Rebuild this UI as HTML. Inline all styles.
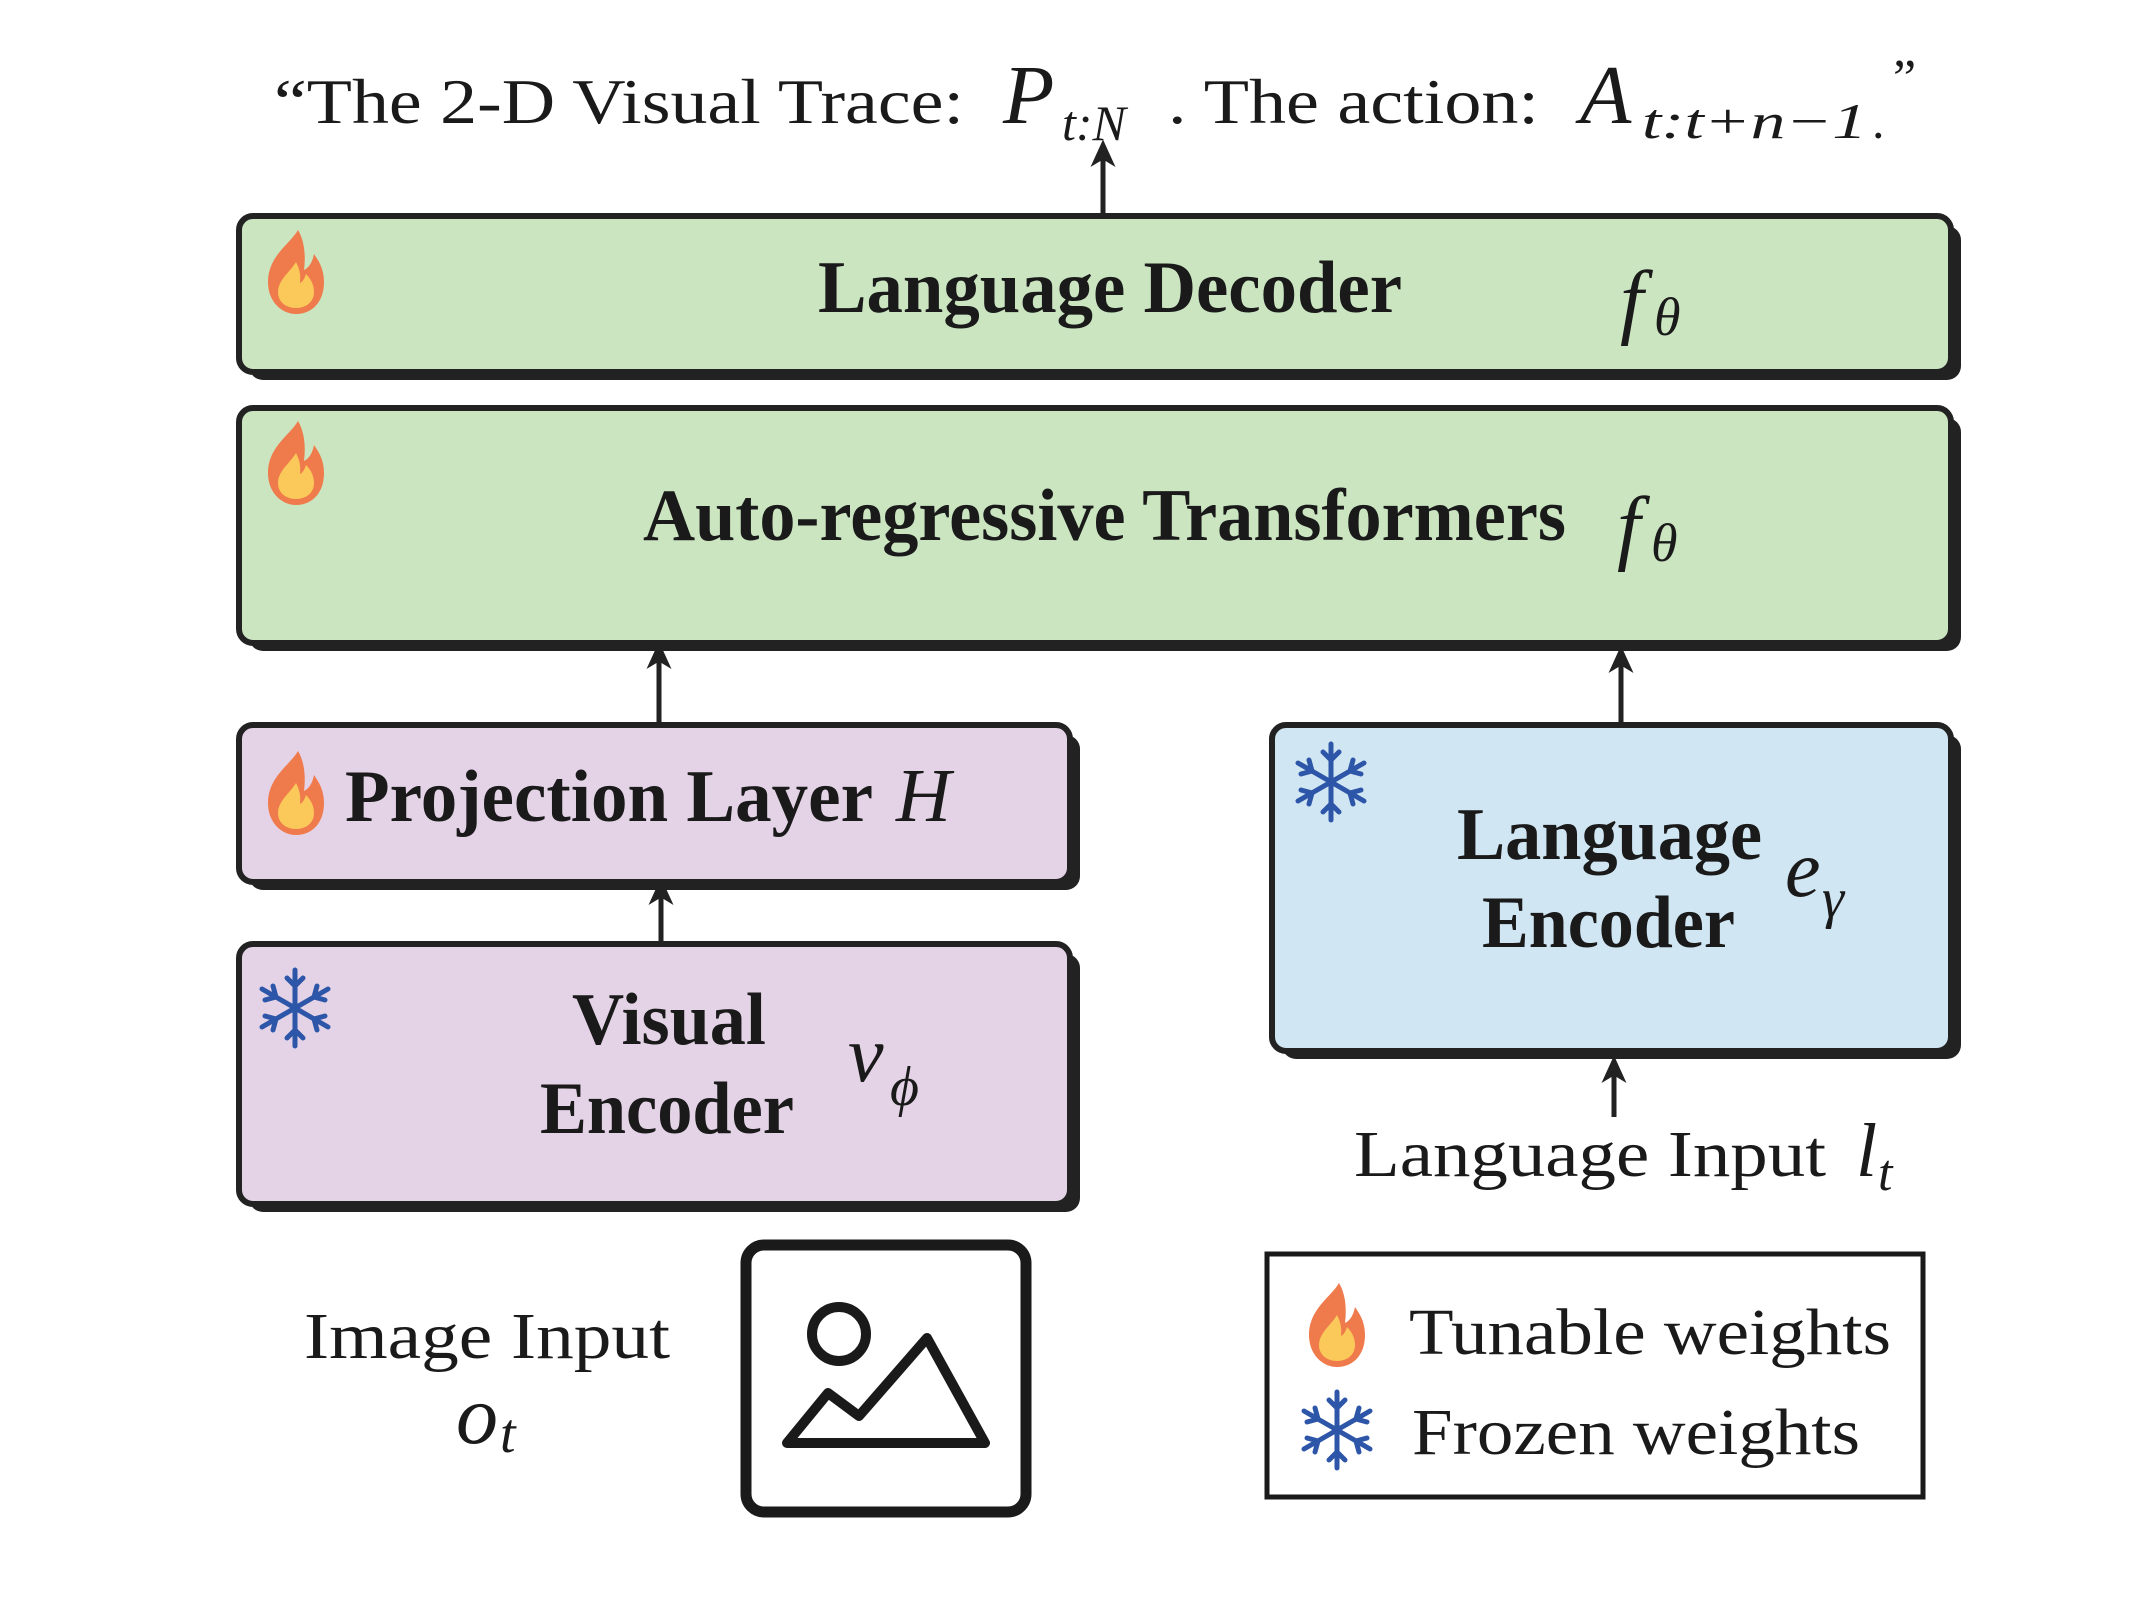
<!DOCTYPE html>
<html><head><meta charset="utf-8"><style>html,body{margin:0;padding:0;background:#fff}svg{display:block}text{font-family:"Liberation Serif",serif}</style></head>
<body>
<svg width="2134" height="1600" viewBox="0 0 2134 1600" xmlns="http://www.w3.org/2000/svg">
<defs>
<g id="flame">
<path d="M2,-44 C-6,-30 -28,-18 -28,8 C-28,28 -14,40 0,40 C16,40 28,28 28,8 C28,-6 22,-14 18,-20 C16,-10 12,-6 8,-4 C10,-20 8,-34 2,-44 Z" fill="#ef7a4c"/>
<path d="M0,-12 C-6,-2 -18,6 -18,18 C-18,28 -10,34 0,34 C10,34 18,28 18,18 C18,10 14,4 10,0 C8,6 6,8 4,9 C5,0 3,-6 0,-12 Z" fill="#fbc85a"/>
</g>
<g id="snow" stroke="#2d56a8" stroke-width="5" stroke-linecap="round" fill="none">
<line x1="0" y1="-38" x2="0" y2="38"/><line x1="-33" y1="-19" x2="33" y2="19"/><line x1="-33" y1="19" x2="33" y2="-19"/>
<path d="M-8,-30 L0,-22 L8,-30 M-8,30 L0,22 L8,30"/>
<path d="M-30,-8 L-19,-11 L-22,-22 M30,8 L19,11 L22,22"/>
<path d="M-30,8 L-19,11 L-22,22 M30,-8 L19,-11 L22,-22"/>
</g>
<marker id="ah" markerWidth="6" markerHeight="6" refX="3" refY="3" orient="auto" markerUnits="strokeWidth"><path d="M0,0.5 L5.5,3 L0,5.5 L1.5,3 Z" fill="#222"/></marker>
</defs>
<g fill="#1a1a1a">
<text x="274" y="123" font-size="64" textLength="690" lengthAdjust="spacingAndGlyphs">“The 2-D Visual Trace:</text>
<text x="1003" y="123" font-size="84" font-style="italic">P</text>
<text x="1062" y="140" font-size="50" font-style="italic">t:N</text>
<text x="1168" y="123" font-size="64" textLength="371" lengthAdjust="spacingAndGlyphs">. The action:</text>
<text x="1580" y="123" font-size="84" font-style="italic">A</text>
<text x="1642" y="138" font-size="50" font-style="italic" textLength="225" lengthAdjust="spacingAndGlyphs">t:t+n−1</text>
<text x="1872" y="138" font-size="50">.</text>
<text x="1893" y="95" font-size="52">”</text>
</g>
<g stroke="#222" stroke-width="5" fill="none">
<line x1="1103" y1="214" x2="1103" y2="152" marker-end="url(#ah)"/>
<line x1="659" y1="723" x2="659" y2="654" marker-end="url(#ah)"/>
<line x1="1621" y1="723" x2="1621" y2="658" marker-end="url(#ah)"/>
<line x1="661" y1="942" x2="661" y2="890" marker-end="url(#ah)"/>
<line x1="1614" y1="1117" x2="1614" y2="1068" marker-end="url(#ah)"/>
</g>
<g fill="#222">
<rect x="249" y="226" width="1712" height="154" rx="14"/>
<rect x="249" y="418" width="1712" height="233" rx="14"/>
<rect x="249" y="735" width="831" height="155" rx="14"/>
<rect x="249" y="954" width="831" height="258" rx="14"/>
<rect x="1282" y="735" width="679" height="324" rx="14"/>
</g>
<g stroke="#222" stroke-width="6">
<rect x="239" y="216" width="1712" height="156" rx="14" fill="#cbe5c1"/>
<rect x="239" y="408" width="1712" height="235" rx="14" fill="#cbe5c1"/>
<rect x="239" y="725" width="831" height="157" rx="14" fill="#e4d3e6"/>
<rect x="239" y="944" width="831" height="260" rx="14" fill="#e4d3e6"/>
<rect x="1272" y="725" width="679" height="326" rx="14" fill="#d0e6f3"/>
</g>
<use href="#flame" x="296" y="274"/>
<use href="#flame" x="296" y="465"/>
<use href="#flame" x="296" y="795"/>
<use href="#snow" x="295" y="1008"/>
<use href="#snow" x="1331" y="782"/>
<!-- image icon -->
<rect x="746" y="1245" width="280" height="267" rx="18" fill="#fff" stroke="#1a1a1a" stroke-width="11"/>
<circle cx="839" cy="1334" r="27" fill="none" stroke="#1a1a1a" stroke-width="10"/>
<path d="M787,1443 L828,1393 L859,1416 L927,1338 L985,1443 Z" fill="none" stroke="#1a1a1a" stroke-width="10" stroke-linejoin="round"/>
<!-- legend -->
<rect x="1267" y="1254" width="656" height="243" fill="#fff" stroke="#1a1a1a" stroke-width="5"/>
<use href="#flame" x="1337" y="1327"/>
<use href="#snow" x="1337" y="1430"/>
<g fill="#1a1a1a">
<g font-weight="bold" font-size="74">
<text x="818" y="312" textLength="584" lengthAdjust="spacingAndGlyphs">Language Decoder</text>
<text x="643" y="540" textLength="923" lengthAdjust="spacingAndGlyphs">Auto-regressive Transformers</text>
<text x="345" y="821" textLength="528" lengthAdjust="spacingAndGlyphs">Projection Layer</text>
<text x="572" y="1044" textLength="194" lengthAdjust="spacingAndGlyphs">Visual</text>
<text x="540" y="1133" textLength="254" lengthAdjust="spacingAndGlyphs">Encoder</text>
<text x="1457" y="859" textLength="305" lengthAdjust="spacingAndGlyphs">Language</text>
<text x="1482" y="947" textLength="253" lengthAdjust="spacingAndGlyphs">Encoder</text>
</g>
<g font-style="italic">
<text x="1620" y="328" font-size="84">f</text><text x="1654" y="335" font-size="54">θ</text>
<text x="1617" y="554" font-size="84">f</text><text x="1651" y="561" font-size="54">θ</text>
<text x="896" y="821" font-size="76">H</text>
<text x="848" y="1081" font-size="80">v</text><text x="890" y="1105" font-size="56">ϕ</text>
<text x="1785" y="896" font-size="80">e</text><text x="1822" y="917" font-size="56">γ</text>
<text x="1856" y="1176" font-size="76">l</text><text x="1878" y="1190" font-size="52">t</text>
<text x="456" y="1443" font-size="84">o</text><text x="500" y="1452" font-size="56">t</text>
</g>
<g font-size="66">
<text x="1354" y="1176" textLength="472" lengthAdjust="spacingAndGlyphs">Language Input</text>
<text x="304" y="1358" textLength="366" lengthAdjust="spacingAndGlyphs">Image Input</text>
<text x="1409" y="1354" textLength="482" lengthAdjust="spacingAndGlyphs">Tunable weights</text>
<text x="1412" y="1454" textLength="448" lengthAdjust="spacingAndGlyphs">Frozen weights</text>
</g>
</g>
</svg>
</body></html>
